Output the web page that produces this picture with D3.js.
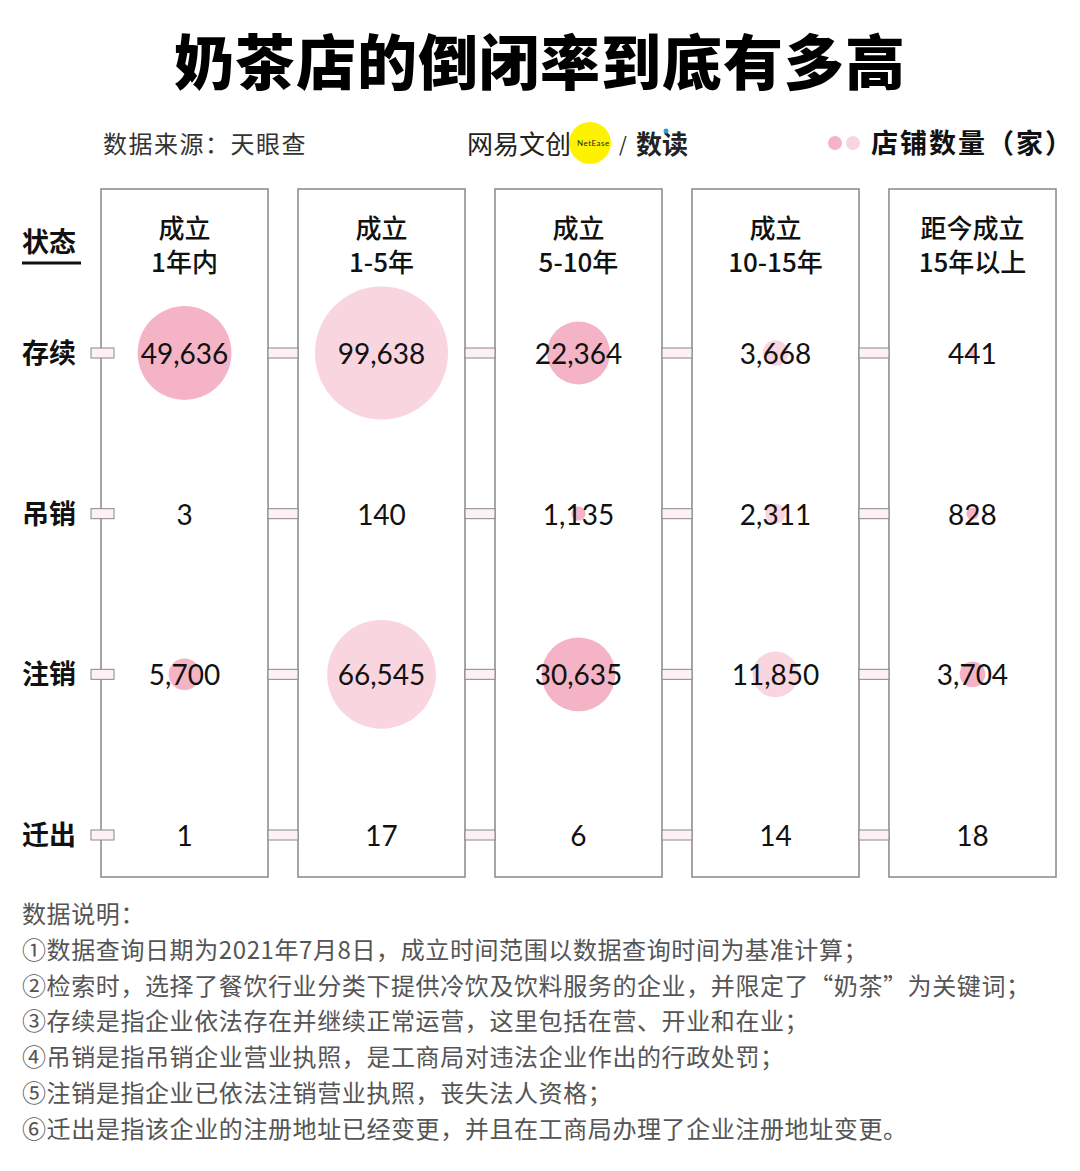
<!DOCTYPE html>
<html>
<head>
<meta charset="utf-8">
<script src="https://cdn.jsdelivr.net/npm/d3@7/dist/d3.min.js"></script>
<style>
  body { margin: 0; background: #fff; }
  svg { display: block; }
</style>
</head>
<body>
<div id="Canvas"></div>
<script>
// 数据
let ages = ["成立\n1年内", "成立\n1-5年", "成立\n5-10年", "成立\n10-15年", "距今成立\n15年以上"]
let states = ["存续", "吊销", "注销", "迁出"]
// 每列: 存续, 吊销, 注销, 迁出
let counts = [
  [49636, 3, 5700, 1],
  [99638, 140, 66545, 17],
  [22364, 1135, 30635, 6],
  [3668, 2311, 11850, 14],
  [441, 828, 3704, 18]
]
let notes = [
  "数据说明：",
  "①数据查询日期为2021年7月8日，成立时间范围以数据查询时间为基准计算；",
  "②检索时，选择了餐饮行业分类下提供冷饮及饮料服务的企业，并限定了“奶茶”为关键词；",
  "③存续是指企业依法存在并继续正常运营，这里包括在营、开业和在业；",
  "④吊销是指吊销企业营业执照，是工商局对违法企业作出的行政处罚；",
  "⑤注销是指企业已依法注销营业执照，丧失法人资格；",
  "⑥迁出是指该企业的注册地址已经变更，并且在工商局办理了企业注册地址变更。"
]

const W = 1080, H = 1171
const FONT = "'Noto Sans CJK SC', 'Noto Sans', sans-serif"
const NUMFONT = "Lato, 'Noto Sans', sans-serif"
const darkPink = "#f5b4c6", lightPink = "#f8d5df"

let svg = d3.select("#Canvas").append("svg")
  .attr("width", W).attr("height", H)
  .style("font-family", FONT)

// 标题
svg.append("text").attr("x", 540).attr("y", 85)
  .attr("text-anchor", "middle").attr("font-size", 60).attr("font-weight", 900)
  .attr("letter-spacing", 1).attr("fill", "#000").text("奶茶店的倒闭率到底有多高")

svg.append("text").attr("x", 103).attr("y", 153)
  .attr("font-size", 24).attr("letter-spacing", 1.5).attr("fill", "#333").text("数据来源：天眼查")

// logo
let logo = svg.append("g")
logo.append("circle").attr("cx", 590).attr("cy", 143).attr("r", 21).attr("fill", "#fff200")
logo.append("text").attr("x", 467).attr("y", 154).attr("font-size", 26).attr("fill", "#222").text("网易文创")
logo.append("text").attr("x", 577).attr("y", 146).attr("font-size", 8).attr("font-family", NUMFONT)
  .attr("fill", "#222").attr("letter-spacing", 0.5).text("NetEase")
logo.append("text").attr("x", 619).attr("y", 152).attr("font-size", 20).attr("fill", "#222").text("/")
logo.append("text").attr("x", 636).attr("y", 154).attr("font-size", 26).attr("font-weight", 700).attr("fill", "#222").text("数读")
logo.append("circle").attr("cx", 666).attr("cy", 131).attr("r", 2.5).attr("fill", "#2a9fd8")

// 图例
svg.append("circle").attr("cx", 835).attr("cy", 143).attr("r", 7).attr("fill", darkPink)
svg.append("circle").attr("cx", 853).attr("cy", 143).attr("r", 7).attr("fill", lightPink)
svg.append("text").attr("x", 871).attr("y", 153).attr("font-size", 27).attr("font-weight", 700)
  .attr("letter-spacing", 2).attr("fill", "#111").text("店铺数量（家）")

// 比例尺
let xScale = d3.scaleBand().domain(d3.range(ages.length)).range([101, 1056]).paddingInner(0.152).paddingOuter(0)
let yScale = d3.scalePoint().domain(states).range([353, 835])
let rScale = d3.scaleSqrt().domain([0, 99638]).range([0, 66.5])

const boxTop = 189, boxBottom = 877

// 列
let cols = svg.append("g").selectAll("g").data(counts).join("g")
  .attr("transform", (d, i) => `translate(${xScale(i)},0)`)

cols.append("rect").attr("x", 0).attr("y", boxTop)
  .attr("width", xScale.bandwidth()).attr("height", boxBottom - boxTop)
  .attr("fill", "#fff").attr("stroke", "#888").attr("stroke-width", 1.5)

// 连接件（画在框上面）
let conn = svg.append("g")
states.forEach(s => {
  let y = yScale(s)
  conn.append("rect").attr("x", 91).attr("y", y - 5).attr("width", 23).attr("height", 10)
    .attr("fill", "#fdf1f4").attr("stroke", "#888").attr("stroke-width", 1)
  for (let i = 0; i < ages.length - 1; i++) {
    let x1 = xScale(i) + xScale.bandwidth(), x2 = xScale(i + 1)
    conn.append("rect").attr("x", x1).attr("y", y - 5).attr("width", x2 - x1).attr("height", 10)
      .attr("fill", "#fdf1f4").attr("stroke", "#888").attr("stroke-width", 1)
  }
})

cols.each(function (d, i) {
  let g = d3.select(this)
  let cx = xScale.bandwidth() / 2
  ages[i].split("\n").forEach((line, k) => {
    g.append("text").attr("x", cx).attr("y", 238 + k * 34)
      .attr("text-anchor", "middle").attr("font-size", 26).attr("font-weight", 500)
      .attr("fill", "#111").text(line)
  })
  d.forEach((v, j) => {
    let y = yScale(states[j])
    g.append("circle").attr("cx", cx).attr("cy", y).attr("r", rScale(v))
      .attr("fill", i % 2 === 0 ? darkPink : lightPink)
  })
  d.forEach((v, j) => {
    let y = yScale(states[j])
    g.append("text").attr("x", cx).attr("y", y + 11)
      .attr("text-anchor", "middle").attr("font-size", 28).attr("font-weight", 400)
      .attr("font-family", NUMFONT).attr("fill", "#111").text(d3.format(",")(v))
  })
})

// 状态标签
svg.append("text").attr("x", 22).attr("y", 252).attr("font-size", 27).attr("font-weight", 700)
  .attr("fill", "#111").text("状态")
svg.append("line").attr("x1", 22).attr("x2", 81).attr("y1", 263).attr("y2", 263)
  .attr("stroke", "#111").attr("stroke-width", 3)
states.forEach(s => {
  svg.append("text").attr("x", 22).attr("y", yScale(s) + 10).attr("font-size", 27).attr("font-weight", 700)
    .attr("fill", "#111").text(s)
})

// 数据说明
svg.append("g").selectAll("text").data(notes).join("text")
  .attr("x", 22).attr("y", (d, i) => 923 + i * 35.8)
  .attr("font-size", 24).attr("letter-spacing", 0.6).attr("fill", "#555").text(d => d)
</script>
</body>
</html>
